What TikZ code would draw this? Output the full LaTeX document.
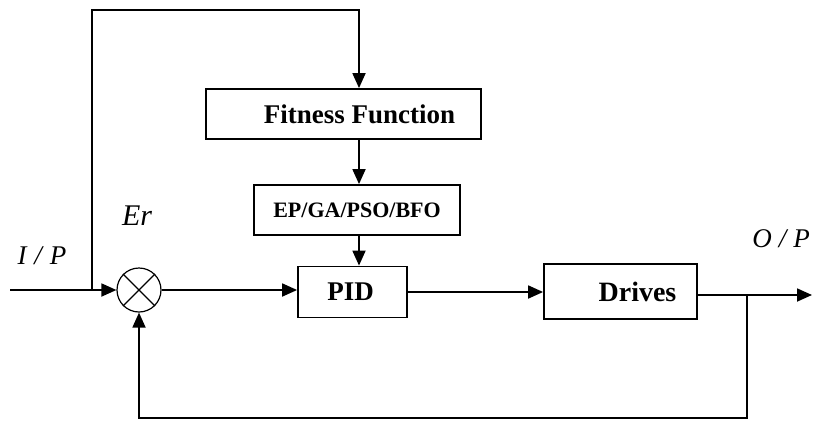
\documentclass[tikz,border=0pt]{standalone}
\usepackage{fontspec}
\setmainfont{Liberation Serif}
\usetikzlibrary{arrows.meta}
\begin{document}
\begin{tikzpicture}[x=1pt,y=-1pt,
  line width=1.8pt,
  box/.style={draw, rectangle, inner sep=0pt, line width=1.8pt},
  arr/.style={-{Triangle[length=15pt,width=13pt]}},
  lab/.style={font=\itshape\fontsize{27}{30}\selectfont, inner sep=0pt}]
\useasboundingbox (0,0) rectangle (813,423);
\node[box, minimum width=275pt, minimum height=50pt, font=\bfseries\fontsize{27}{32}\selectfont] (fit) at (343.5,114) {\hspace*{32pt}Fitness Function};
\node[box, minimum width=206pt, minimum height=50pt, font=\bfseries\fontsize{22}{26}\selectfont] (ep) at (357,210) {EP/GA/PSO/BFO};
\node[box, minimum width=109pt, minimum height=51pt, font=\bfseries\fontsize{27}{32}\selectfont] (pid) at (352.5,292) {\hspace*{-4pt}PID};
\node[box, minimum width=153pt, minimum height=55pt, font=\bfseries\fontsize{28}{32}\selectfont] (drv) at (620.5,291.5) {\hspace*{34pt}Drives};
\node[draw, circle, minimum size=44pt, inner sep=0pt, line width=1.2pt] (sum) at (139,290) {};
\draw[line width=1.2pt] (sum.north east) -- (sum.south west) (sum.north west) -- (sum.south east);
\coordinate (in) at (10,290);
\coordinate (br) at (92,290);
\coordinate (tl) at (92,10);
\coordinate (ax) at (359,10);
\coordinate (tap) at (747,295);
\coordinate (out) at (812,295);
\coordinate (bl) at (139,418);
\draw[arr] (in) -- (sum.west);
\draw[arr] (br) -- (tl) -- (ax) -- (ax |- fit.north);
\draw[arr] (ax |- fit.south) -- (ax |- ep.north);
\draw[arr] (ax |- ep.south) -- (ax |- pid.north);
\draw[arr] (sum.east) -- (sum.east -| pid.west);
\draw[arr] (pid.east) -- (pid.east -| drv.west);
\draw[arr] (drv.east |- tap) -- (out);
\draw[arr] (tap) -- (tap |- bl) -- (bl) -- (sum.south);
\node[lab] (ip) at (42,256) {I\hspace{8pt}/\hspace{8pt}P};
\node[lab, font=\itshape\fontsize{30}{34}\selectfont] (er) at (137,216) {Er};
\node[lab] (op) at (781,239) {O\hspace{7pt}/\hspace{7pt}P};
\end{tikzpicture}
\end{document}
